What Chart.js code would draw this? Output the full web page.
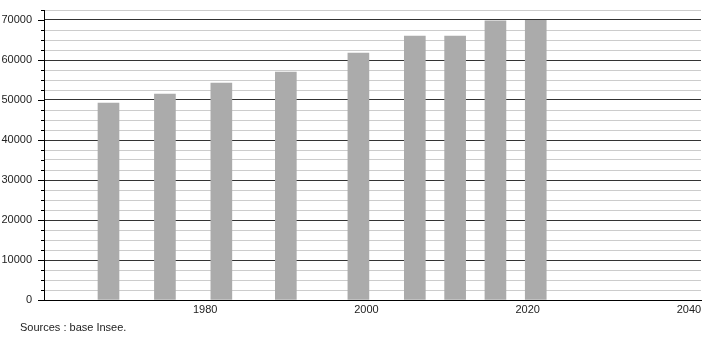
<!DOCTYPE html>
<html>
<head>
<meta charset="utf-8">
<script src="https://cdn.jsdelivr.net/npm/chart.js@4.4.0/dist/chart.umd.min.js"></script>
<style>
  body { margin: 0; background: #fff; }
  #wrap { position: relative; width: 710px; height: 340px; }
  #source {
    position: absolute; left: 20px; top: 321px; margin: 0;
    font: 11px "Liberation Sans", Arial, sans-serif; color: #222;
  }
</style>
</head>
<body>
<div id="wrap">
  <canvas id="graficoPop" width="710" height="340"></canvas>
  <p id="source">Sources : base Insee.</p>
</div>
<script>
const annees = [1968, 1975, 1982, 1990, 1999, 2006, 2011, 2016, 2021];
const population = [49250, 51500, 54250, 57000, 61750, 66000, 66000, 69800, 69900];
const xTicks = [1980, 2000, 2020, 2040];
const yMax = 72500;
const yStep = 2500;

const points = annees.map((a, i) => ({ x: a, y: population[i] }));

// petites graduations sur l'axe vertical
const graduations = {
  id: "graduations",
  afterDraw(chart) {
    const ctx = chart.ctx;
    const y = chart.scales.y;
    const left = chart.chartArea.left;
    ctx.save();
    ctx.strokeStyle = "#000";
    ctx.lineWidth = 1;
    for (let v = 0; v <= yMax; v += yStep) {
      const py = Math.round(y.getPixelForValue(v)) + 0.5;
      const len = v % 10000 === 0 ? 6 : 3;
      ctx.beginPath();
      ctx.moveTo(left - len, py);
      ctx.lineTo(left, py);
      ctx.stroke();
    }
    ctx.restore();
  },
};

const canvas = document.getElementById("graficoPop");
const grafico = new Chart(canvas, {
  type: "bar",
  data: {
    datasets: [
      {
        data: points,
        backgroundColor: "#ababab",
        borderWidth: 0,
        barThickness: 21,
      },
    ],
  },
  options: {
    responsive: false,
    animation: false,
    layout: { padding: { top: 10, right: 9, left: 0, bottom: 0 } },
    plugins: { legend: { display: false }, tooltip: { enabled: false } },
    scales: {
      x: {
        type: "linear",
        offset: false,
        min: 1960,
        max: 2041.5,
        afterBuildTicks: (scale) => {
          scale.ticks = xTicks.map((v) => ({ value: v }));
        },
        afterFit: (scale) => {
          scale.height = 40;
          scale.paddingLeft = 0;
          scale.paddingRight = 0;
        },
        grid: { display: false, drawTicks: false, offset: false },
        border: { color: "#000", width: 1 },
        ticks: {
          padding: 3,
          maxRotation: 0,
          color: "#222",
          font: { family: "Liberation Sans", size: 11 },
          callback: (v) => String(v),
        },
      },
      y: {
        min: 0,
        max: yMax,
        afterFit: (scale) => {
          scale.width = 44;
          scale.paddingTop = 0;
          scale.paddingBottom = 0;
        },
        grid: {
          drawTicks: false,
          color: (c) => (c.tick && c.tick.value % 10000 === 0 ? "#333" : "#cccccc"),
        },
        border: { color: "#000", width: 1 },
        ticks: {
          stepSize: yStep,
          padding: 12,
          autoSkip: false,
          color: "#222",
          font: { family: "Liberation Sans", size: 11 },
          callback: (v) => (v % 10000 === 0 ? String(v) : ""),
        },
      },
    },
  },
  plugins: [graduations],
});
</script>
</body>
</html>
